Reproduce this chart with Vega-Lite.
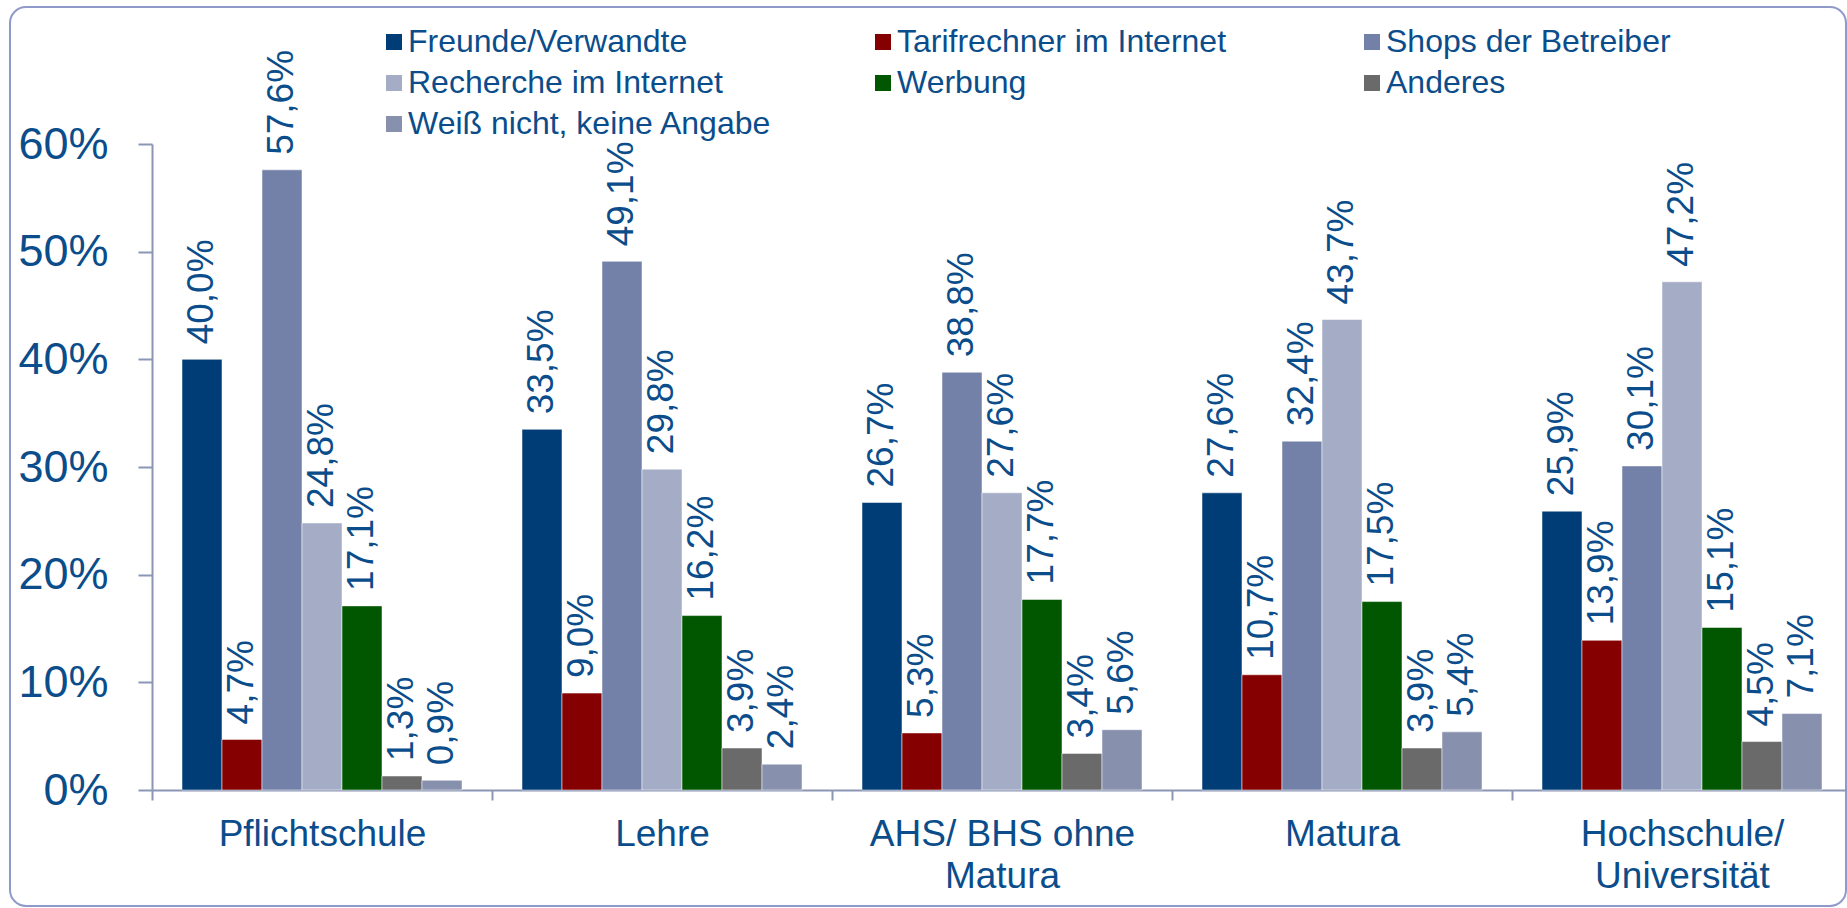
{
  "$schema": "https://vega.github.io/schema/vega-lite/v6.json",
  "width": 1836,
  "height": 899,
  "autosize": {"type": "none"},
  "padding": {"left": 10, "top": 7, "right": 1, "bottom": 2},
  "background": "white",
  "config": {
    "locale": {"number": {"decimal": ",", "thousands": ".", "grouping": [3], "currency": ["", " €"]}},
    "font": "Liberation Sans",
    "view": {"stroke": "#8F9ACB", "strokeWidth": 2, "cornerRadius": 16},
    "axis": {"labelFont": "Liberation Sans", "labelColor": "#0B4D8B", "domainColor": "#8A96B4", "tickColor": "#8A96B4", "domainWidth": 2, "tickWidth": 2, "grid": false}
  },
  "data": {"values": [
    {"Bildung": "Pflichtschule", "Quelle": "Freunde/Verwandte", "v": 0.400},
    {"Bildung": "Pflichtschule", "Quelle": "Tarifrechner im Internet", "v": 0.047},
    {"Bildung": "Pflichtschule", "Quelle": "Shops der Betreiber", "v": 0.576},
    {"Bildung": "Pflichtschule", "Quelle": "Recherche im Internet", "v": 0.248},
    {"Bildung": "Pflichtschule", "Quelle": "Werbung", "v": 0.171},
    {"Bildung": "Pflichtschule", "Quelle": "Anderes", "v": 0.013},
    {"Bildung": "Pflichtschule", "Quelle": "Weiß nicht, keine Angabe", "v": 0.009},
    {"Bildung": "Lehre", "Quelle": "Freunde/Verwandte", "v": 0.335},
    {"Bildung": "Lehre", "Quelle": "Tarifrechner im Internet", "v": 0.090},
    {"Bildung": "Lehre", "Quelle": "Shops der Betreiber", "v": 0.491},
    {"Bildung": "Lehre", "Quelle": "Recherche im Internet", "v": 0.298},
    {"Bildung": "Lehre", "Quelle": "Werbung", "v": 0.162},
    {"Bildung": "Lehre", "Quelle": "Anderes", "v": 0.039},
    {"Bildung": "Lehre", "Quelle": "Weiß nicht, keine Angabe", "v": 0.024},
    {"Bildung": "AHS/ BHS ohne Matura", "Quelle": "Freunde/Verwandte", "v": 0.267},
    {"Bildung": "AHS/ BHS ohne Matura", "Quelle": "Tarifrechner im Internet", "v": 0.053},
    {"Bildung": "AHS/ BHS ohne Matura", "Quelle": "Shops der Betreiber", "v": 0.388},
    {"Bildung": "AHS/ BHS ohne Matura", "Quelle": "Recherche im Internet", "v": 0.276},
    {"Bildung": "AHS/ BHS ohne Matura", "Quelle": "Werbung", "v": 0.177},
    {"Bildung": "AHS/ BHS ohne Matura", "Quelle": "Anderes", "v": 0.034},
    {"Bildung": "AHS/ BHS ohne Matura", "Quelle": "Weiß nicht, keine Angabe", "v": 0.056},
    {"Bildung": "Matura", "Quelle": "Freunde/Verwandte", "v": 0.276},
    {"Bildung": "Matura", "Quelle": "Tarifrechner im Internet", "v": 0.107},
    {"Bildung": "Matura", "Quelle": "Shops der Betreiber", "v": 0.324},
    {"Bildung": "Matura", "Quelle": "Recherche im Internet", "v": 0.437},
    {"Bildung": "Matura", "Quelle": "Werbung", "v": 0.175},
    {"Bildung": "Matura", "Quelle": "Anderes", "v": 0.039},
    {"Bildung": "Matura", "Quelle": "Weiß nicht, keine Angabe", "v": 0.054},
    {"Bildung": "Hochschule/ Universität", "Quelle": "Freunde/Verwandte", "v": 0.259},
    {"Bildung": "Hochschule/ Universität", "Quelle": "Tarifrechner im Internet", "v": 0.139},
    {"Bildung": "Hochschule/ Universität", "Quelle": "Shops der Betreiber", "v": 0.301},
    {"Bildung": "Hochschule/ Universität", "Quelle": "Recherche im Internet", "v": 0.472},
    {"Bildung": "Hochschule/ Universität", "Quelle": "Werbung", "v": 0.151},
    {"Bildung": "Hochschule/ Universität", "Quelle": "Anderes", "v": 0.045},
    {"Bildung": "Hochschule/ Universität", "Quelle": "Weiß nicht, keine Angabe", "v": 0.071}
  ]},
  "encoding": {
    "x": {
      "field": "Bildung", "type": "nominal",
      "sort": ["Pflichtschule", "Lehre", "AHS/ BHS ohne Matura", "Matura", "Hochschule/ Universität"],
      "scale": {"range": [142, 1842], "paddingInner": 0, "paddingOuter": 0},
      "axis": {
        "title": null, "labelAngle": 0, "labelFontSize": 37, "labelPadding": 16, "tickSize": 10,
        "tickBand": "extent", "offset": -116, "labelLineHeight": 42, "labelLimit": 0,
        "labelExpr": "datum.value == 'AHS/ BHS ohne Matura' ? ['AHS/ BHS ohne', 'Matura'] : datum.value == 'Hochschule/ Universität' ? ['Hochschule/', 'Universität'] : datum.label"
      }
    },
    "xOffset": {
      "field": "Quelle", "type": "nominal",
      "sort": ["Freunde/Verwandte", "Tarifrechner im Internet", "Shops der Betreiber", "Recherche im Internet", "Werbung", "Anderes", "Weiß nicht, keine Angabe"],
      "scale": {"paddingInner": 0, "paddingOuter": 0.75}
    },
    "y": {
      "field": "v", "type": "quantitative",
      "scale": {"domain": [0, 0.6], "range": [783, 137], "nice": false},
      "axis": {"title": null, "format": ".0%", "values": [0, 0.1, 0.2, 0.3, 0.4, 0.5, 0.6], "labelFontSize": 45, "tickSize": 14, "labelPadding": 30, "offset": -142}
    }
  },
  "layer": [
    {
      "mark": {"type": "bar", "stroke": "#ffffff", "strokeWidth": 1, "strokeOpacity": 0.5},
      "encoding": {
        "color": {
          "field": "Quelle", "type": "nominal",
          "scale": {
            "domain": ["Freunde/Verwandte", "Tarifrechner im Internet", "Shops der Betreiber", "Recherche im Internet", "Werbung", "Anderes", "Weiß nicht, keine Angabe"],
            "range": ["#003C76", "#850000", "#7380A8", "#A4ACC6", "#005700", "#6A6A6A", "#8791AE"]
          },
          "legend": {
            "orient": "none", "legendX": 368, "legendY": 19, "columns": 3, "direction": "horizontal", "title": null,
            "symbolType": "square", "symbolSize": 256, "symbolStrokeWidth": 0, "symbolOpacity": 1,
            "labelFontSize": 32, "labelColor": "#0B4D8B", "labelFont": "Liberation Sans", "labelOffset": -2,
            "columnPadding": 94, "rowPadding": 9, "gridAlign": "all", "labelLimit": 0, "padding": 0
          }
        }
      }
    },
    {
      "mark": {"type": "text", "angle": -90, "align": "left", "baseline": "middle", "dx": 15, "fontSize": 37, "color": "#0B4D8B", "font": "Liberation Sans"},
      "encoding": {
        "text": {"field": "v", "type": "quantitative", "format": ".1%"}
      }
    }
  ]
}
